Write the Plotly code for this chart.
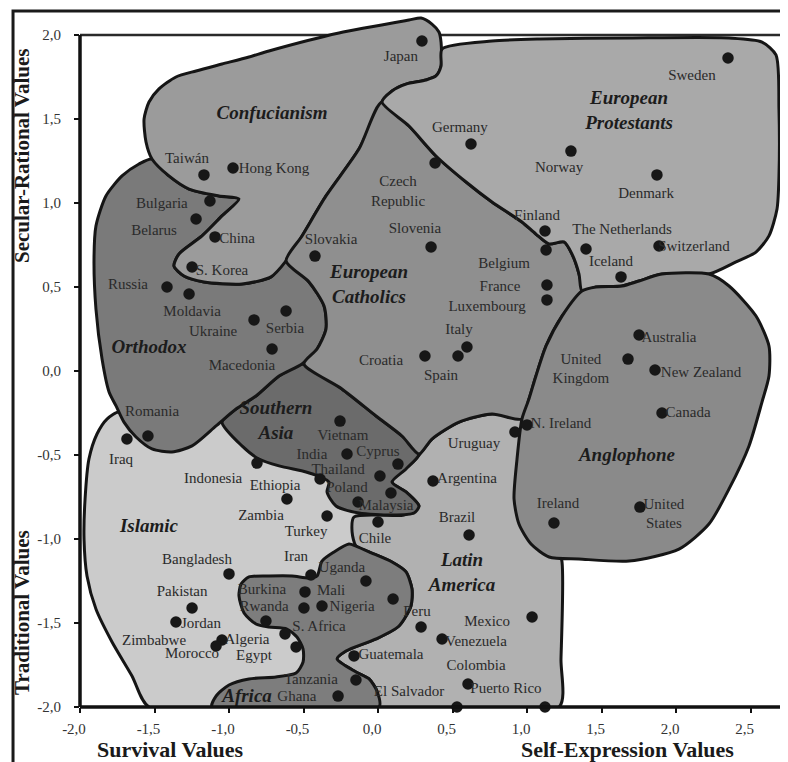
import plotly.graph_objects as go

# ---------------- axis ticks ----------------
x_ticks = [-2.0, -1.5, -1.0, -0.5, 0.0, 0.5, 1.0, 1.5, 2.0, 2.5]
x_tick_text = ["-2,0", "-1,5", "-1,0", "-0,5", "0,0", "0,5", "1,0", "1,5", "2,0", "2,5"]
y_ticks = [-2.0, -1.5, -1.0, -0.5, 0.0, 0.5, 1.0, 1.5, 2.0]
y_tick_text = ["-2,0", "-1,5", "-1,0", "-0,5", "0,0", "0,5", "1,0", "1,5", "2,0"]

# ---------------- country scores (survival/self-expression, traditional/secular-rational) ----------------
dot_x = [0.295, 2.349, -1.168, -0.973, 0.624, 1.295, 1.872, 0.383, -1.128, -1.221,
         -1.094, 1.121, 1.128, 1.396, 0.356, -0.423, 1.631, 1.886, -1.248, -1.416,
         1.134, -1.268, 1.134, -0.832, -0.617, 1.752, 0.597, 0.537, 0.315, -0.711,
         1.678, 1.859, -1.544, -1.685, 1.906, -0.255, 1.000, 0.919, -0.208, 0.134,
         -0.812, 0.013, -0.389, 0.087, -0.611, -0.134, -0.342, 0.369, 0.000, 0.611,
         1.181, 1.758, -1.000, -0.450, -0.081, -1.248, -0.490, -0.497, -0.376, -0.752,
         -0.624, -0.550, -1.356, -1.047, -1.087, 0.289, 0.430, 1.034, -0.161, -0.148,
         -0.268, 0.604, 0.530, 1.121, 0.101]
dot_y = [1.964, 1.863, 1.167, 1.208, 1.351, 1.309, 1.167, 1.238, 1.012, 0.905,
         0.798, 0.833, 0.720, 0.726, 0.738, 0.684, 0.560, 0.744, 0.619, 0.500,
         0.512, 0.458, 0.423, 0.304, 0.357, 0.214, 0.143, 0.089, 0.089, 0.131,
         0.071, 0.006, -0.387, -0.405, -0.250, -0.298, -0.321, -0.363, -0.494, -0.554,
         -0.548, -0.625, -0.643, -0.726, -0.762, -0.780, -0.863, -0.655, -0.899, -0.976,
         -0.905, -0.810, -1.208, -1.214, -1.250, -1.411, -1.315, -1.411, -1.399, -1.488,
         -1.565, -1.643, -1.494, -1.601, -1.637, -1.524, -1.595, -1.464, -1.696, -1.839,
         -1.935, -1.863, -2.000, -2.000, -1.357]

# ---------------- country labels ----------------
label_text = ["Japan", "Sweden", "Taiwán", "Hong Kong", "Germany", "Norway", "Denmark",
              "Czech<br>Republic", "Bulgaria", "Belarus", "China", "Finland", "The Netherlands",
              "Slovenia", "Slovakia", "Iceland", "Switzerland", "Belgium", "S. Korea", "Russia",
              "France", "Moldavia", "Luxembourg", "Ukraine", "Serbia", "Australia", "Italy",
              "Macedonia", "Croatia", "United<br>Kingdom", "Spain", "New Zealand", "Romania",
              "Canada", "Iraq", "Vietnam", "N. Ireland", "Uruguay", "India", "Cyprus",
              "Indonesia", "Thailand", "Ethiopia", "Poland", "Argentina", "Malaysia", "Zambia",
              "Turkey", "Chile", "Brazil", "Ireland", "United<br>States", "Bangladesh", "Iran",
              "Uganda", "Pakistan", "Burkina", "Mali", "Rwanda", "Nigeria", "S. Africa", "Jordan",
              "Peru", "Mexico", "Zimbabwe", "Algeria", "Venezuela", "Morocco", "Egypt",
              "Guatemala", "Colombia", "Tanzania", "Ghana", "El Salvador", "Puerto Rico"]
label_x = [0.154, 2.107, -1.282, -0.698, 0.550, 1.215, 1.799,
           0.134, -1.450, -1.503, -0.946, 1.067, 1.638,
           0.248, -0.315, 1.564, 2.121, 0.846, -1.047, -1.678,
           0.819, -1.248, 0.732, -1.107, -0.624, 1.953, 0.544,
           -0.913, 0.020, 1.362, 0.423, 2.168, -1.517,
           2.081, -1.725, -0.235, 1.228, 0.644, -0.443, 0.000,
           -1.107, -0.268, -0.691, -0.208, 0.597, 0.054, -0.785,
           -0.483, -0.020, 0.530, 1.208, 1.919, -1.215, -0.550,
           -0.242, -1.315, -0.779, -0.315, -0.765, -0.174, -0.396, -1.188,
           0.262, 0.732, -1.503, -0.879, 0.658, -1.248, -0.832,
           0.087, 0.658, -0.450, -0.544, 0.208, 0.859]
label_y = [1.869, 1.756, 1.262, 1.202, 1.446, 1.208, 1.054,
           1.065, 0.994, 0.833, 0.786, 0.923, 0.839,
           0.845, 0.780, 0.649, 0.738, 0.637, 0.595, 0.512,
           0.500, 0.351, 0.381, 0.232, 0.250, 0.196, 0.244,
           0.030, 0.060, 0.006, -0.030, -0.012, -0.244,
           -0.250, -0.530, -0.387, -0.315, -0.435, -0.500, -0.482,
           -0.643, -0.592, -0.685, -0.700, -0.643, -0.806, -0.863,
           -0.958, -1.000, -0.875, -0.792, -0.857, -1.125, -1.107,
           -1.173, -1.315, -1.303, -1.310, -1.406, -1.405, -1.524, -1.506,
           -1.435, -1.494, -1.607, -1.601, -1.613, -1.685, -1.696,
           -1.690, -1.756, -1.843, -1.942, -1.911, -1.893]

# ---------------- cultural zones ----------------
zone_names = ["Islamic", "Latin America", "Africa", "Southern Asia", "Orthodox",
              "Confucianism", "European Catholics", "European Protestants", "Anglophone"]
zone_fill = ["#cbcbcb", "#b1b1b1", "#7d7d7d", "#6b6b6b", "#7a7a7a",
             "#9b9b9b", "#8f8f8f", "#a9a9a9", "#8a8a8a"]

islamic = [(-1.738, -0.244), (-1.658, -0.321), (-1.470, -0.375), (-1.201, -0.315), (-0.933, -0.167),
           (-0.732, -0.196), (-0.463, -0.345), (-0.195, -0.464), (0.074, -0.583), (0.040, -0.762),
           (-0.027, -0.940), (-0.027, -1.179), (-0.262, -1.476), (-0.396, -1.714), (-0.463, -2.0),
           (-1.537, -2.0), (-1.651, -1.815), (-1.785, -1.613), (-1.893, -1.417), (-1.953, -1.220),
           (-1.973, -1.0), (-1.966, -0.762), (-1.940, -0.524), (-1.886, -0.375), (-1.819, -0.286)]
latin = [(-0.161, -0.869), (-0.174, -0.958), (-0.148, -1.042), (-0.060, -1.077), (0.094, -1.137),
         (0.188, -1.196), (0.228, -1.298), (0.221, -1.399), (0.141, -1.518), (-0.013, -1.595),
         (-0.215, -1.667), (-0.275, -1.714), (-0.148, -1.792), (-0.060, -1.833), (-0.007, -1.905),
         (0.007, -2.0), (1.215, -2.0), (1.228, -1.714), (1.235, -1.137), (1.181, -0.940),
         (1.081, -0.643), (1.047, -0.345), (0.966, -0.274), (0.765, -0.256), (0.544, -0.304),
         (0.362, -0.405), (0.255, -0.524), (0.094, -0.661), (0.188, -0.720), (0.275, -0.804),
         (0.174, -0.857), (0.007, -0.857)]
africa = [(-0.866, -1.226), (-0.732, -1.220), (-0.577, -1.220), (-0.463, -1.232), (-0.409, -1.220),
          (-0.376, -1.131), (-0.295, -1.077), (-0.195, -1.030), (-0.148, -1.042), (-0.060, -1.077),
          (0.094, -1.137), (0.188, -1.196), (0.228, -1.298), (0.221, -1.399), (0.141, -1.518),
          (-0.013, -1.595), (-0.215, -1.667), (-0.275, -1.714), (-0.148, -1.792), (-0.060, -1.833),
          (-0.007, -1.905), (0.007, -2.0), (-1.114, -2.0), (-1.087, -1.935), (-1.0, -1.869),
          (-0.866, -1.833), (-0.685, -1.821), (-0.550, -1.798), (-0.503, -1.732), (-0.503, -1.655),
          (-0.544, -1.583), (-0.611, -1.536), (-0.732, -1.524), (-0.819, -1.506), (-0.899, -1.440),
          (-0.933, -1.339), (-0.919, -1.268)]
southern_asia = [(-0.497, 0.042), (-0.242, -0.107), (-0.013, -0.268), (0.161, -0.387), (0.275, -0.494),
                 (0.188, -0.583), (0.094, -0.661), (0.188, -0.720), (0.275, -0.804), (0.242, -0.845),
                 (0.094, -0.857), (-0.128, -0.845), (-0.282, -0.804), (-0.342, -0.720), (-0.329, -0.661),
                 (-0.383, -0.631), (-0.483, -0.601), (-0.664, -0.565), (-0.799, -0.524), (-0.913, -0.446),
                 (-1.047, -0.304), (-0.953, -0.226), (-0.819, -0.149), (-0.664, -0.030)]
orthodox = [(-1.517, 1.262), (-1.403, 1.161), (-1.268, 1.083), (-1.067, 1.042), (-0.933, 1.024),
            (-1.047, 0.923), (-1.181, 0.804), (-1.336, 0.696), (-1.369, 0.625), (-1.302, 0.565),
            (-1.168, 0.530), (-0.913, 0.518), (-0.718, 0.560), (-0.617, 0.655), (-0.463, 0.530),
            (-0.362, 0.387), (-0.349, 0.250), (-0.409, 0.131), (-0.510, 0.042), (-0.664, -0.030),
            (-0.819, -0.149), (-0.953, -0.226), (-1.087, -0.327), (-1.248, -0.446), (-1.383, -0.482),
            (-1.517, -0.464), (-1.624, -0.393), (-1.705, -0.304), (-1.758, -0.208), (-1.805, -0.125),
            (-1.852, 0.071), (-1.893, 0.369), (-1.906, 0.667), (-1.893, 0.863), (-1.826, 1.042),
            (-1.718, 1.161), (-1.604, 1.232)]
confucianism = [(-1.517, 1.262), (-1.557, 1.363), (-1.570, 1.500), (-1.537, 1.601), (-1.470, 1.679),
                (-1.356, 1.750), (-1.221, 1.786), (-1.047, 1.827), (-0.866, 1.869), (-0.732, 1.905),
                (-0.262, 2.012), (0.208, 2.089), (0.289, 2.101), (0.362, 2.065), (0.409, 2.018),
                (0.423, 1.958), (0.423, 1.815), (0.389, 1.756), (0.322, 1.732), (0.188, 1.708),
                (0.094, 1.667), (0.027, 1.601), (-0.128, 1.321), (-0.349, 1.042), (-0.510, 0.804),
                (-0.617, 0.655), (-0.718, 0.560), (-0.913, 0.518), (-1.168, 0.530), (-1.302, 0.565),
                (-1.369, 0.625), (-1.336, 0.696), (-1.181, 0.804), (-1.047, 0.923), (-0.933, 1.024),
                (-1.067, 1.042), (-1.268, 1.083), (-1.403, 1.161)]
catholic = [(0.027, 1.601), (0.208, 1.458), (0.389, 1.280), (0.591, 1.125), (0.765, 1.006),
            (0.966, 0.887), (1.060, 0.815), (1.148, 0.756), (1.248, 0.768), (1.302, 0.696),
            (1.349, 0.577), (1.369, 0.476), (1.235, 0.327), (1.128, 0.149), (1.060, -0.030),
            (1.013, -0.167), (0.966, -0.286), (0.765, -0.256), (0.544, -0.304), (0.362, -0.405),
            (0.275, -0.494), (0.161, -0.387), (-0.013, -0.268), (-0.242, -0.107), (-0.497, 0.042),
            (-0.409, 0.131), (-0.349, 0.250), (-0.362, 0.387), (-0.463, 0.530), (-0.617, 0.655),
            (-0.510, 0.804), (-0.349, 1.042), (-0.128, 1.321)]
protestant = [(0.027, 1.601), (0.094, 1.667), (0.188, 1.708), (0.322, 1.732), (0.389, 1.756),
              (0.423, 1.815), (0.430, 1.917), (0.765, 1.964), (1.081, 1.976), (1.685, 1.982),
              (2.356, 1.982), (2.577, 1.958), (2.671, 1.881), (2.691, 1.560), (2.691, 1.161),
              (2.678, 0.964), (2.624, 0.804), (2.537, 0.708), (2.403, 0.649), (2.221, 0.577),
              (1.906, 0.577), (1.752, 0.536), (1.638, 0.506), (1.463, 0.500), (1.369, 0.476),
              (1.349, 0.577), (1.302, 0.696), (1.248, 0.768), (1.148, 0.756), (1.060, 0.815),
              (0.966, 0.887), (0.765, 1.006), (0.591, 1.125), (0.389, 1.280), (0.208, 1.458)]
anglophone = [(1.369, 0.476), (1.463, 0.500), (1.638, 0.506), (1.752, 0.536), (1.906, 0.577),
              (2.221, 0.577), (2.356, 0.506), (2.537, 0.327), (2.624, 0.149), (2.624, -0.030),
              (2.577, -0.185), (2.490, -0.446), (2.356, -0.702), (2.221, -0.911), (2.020, -1.060),
              (1.685, -1.131), (1.349, -1.119), (1.148, -1.107), (1.027, -1.030), (0.946, -0.911),
              (0.913, -0.762), (0.933, -0.524), (0.966, -0.286), (1.013, -0.167), (1.060, -0.030),
              (1.128, 0.149), (1.235, 0.327)]
zone_outlines = [islamic, latin, africa, southern_asia, orthodox,
                 confucianism, catholic, protestant, anglophone]

zone_label_text = ["Confucianism", "European<br>Protestants", "European<br>Catholics", "Orthodox",
                   "Southern<br>Asia", "Anglophone", "Islamic", "Latin<br>America", "Africa"]
zone_label_x = [-0.711, 1.685, -0.060, -1.537, -0.685, 1.671, -1.537, 0.564, -0.879]
zone_label_y = [1.530, 1.542, 0.506, 0.137, -0.304, -0.506, -0.929, -1.208, -1.940]

SERIF = "Liberation Serif"
fig = go.Figure()

for name, pts, col in zip(zone_names, zone_outlines, zone_fill):
    xs = [p[0] for p in pts] + [pts[0][0]]
    ys = [p[1] for p in pts] + [pts[0][1]]
    fig.add_trace(go.Scatter(
        x=xs, y=ys, mode="lines", fill="toself", fillcolor=col, name=name,
        line=dict(color="#151515", width=3, shape="spline", smoothing=0.7),
        hoverinfo="name", showlegend=False))

fig.add_trace(go.Scatter(
    x=dot_x, y=dot_y, mode="markers", cliponaxis=False,
    marker=dict(size=11.5, color="#171717"), showlegend=False, hoverinfo="x+y"))

fig.add_trace(go.Scatter(
    x=label_x, y=label_y, mode="text", text=label_text, cliponaxis=False,
    textposition="middle center",
    textfont=dict(family=SERIF, size=15, color="#2a2a2a"),
    showlegend=False, hoverinfo="skip"))

fig.add_trace(go.Scatter(
    x=zone_label_x, y=zone_label_y, mode="text",
    text=["<b><i>" + t + "</i></b>" for t in zone_label_text],
    textposition="middle center", cliponaxis=False,
    textfont=dict(family=SERIF, size=19, color="#1c1c1c"),
    showlegend=False, hoverinfo="skip"))

# frame lines (paper coordinates; y=2.0 sits at paper 4/4.119)
y_top = 4.0 / 4.119
shapes = [
    dict(type="line", xref="paper", yref="paper", x0=0, x1=1, y0=y_top, y1=y_top,
         line=dict(color="#2a2a2a", width=2.5), layer="below"),
    dict(type="line", xref="paper", yref="paper", x0=0.9985, x1=0.9985, y0=0, y1=y_top,
         line=dict(color="#8c8c8c", width=2.5), layer="above"),
    dict(type="line", xref="paper", yref="paper", x0=0, x1=0, y0=0, y1=y_top,
         line=dict(color="#111111", width=3.5), layer="above"),
    dict(type="line", xref="paper", yref="paper", x0=0, x1=1, y0=0, y1=0,
         line=dict(color="#111111", width=3.5), layer="above"),
    dict(type="rect", xref="paper", yref="paper", x0=-0.095, x1=1.0085, y0=-0.0881, y1=1.0058,
         line=dict(color="#1a1a1a", width=3), fillcolor="rgba(0,0,0,0)", layer="above"),
]

annotations = [
    dict(text="<b>Survival Values</b>", xref="paper", yref="paper", x=0.1277, y=-0.0621,
         showarrow=False, xanchor="center", yanchor="middle",
         font=dict(family=SERIF, size=22, color="#1a1a1a")),
    dict(text="<b>Self-Expression Values</b>", xref="paper", yref="paper", x=0.7773, y=-0.0621,
         showarrow=False, xanchor="center", yanchor="middle",
         font=dict(family=SERIF, size=22, color="#1a1a1a")),
    dict(text="<b>Secular-Rational Values</b>", xref="paper", yref="paper", x=-0.0823, y=0.7977,
         showarrow=False, xanchor="center", yanchor="middle", textangle=-90,
         font=dict(family=SERIF, size=21, color="#1a1a1a")),
    dict(text="<b>Traditional Values</b>", xref="paper", yref="paper", x=-0.0823, y=0.1373,
         showarrow=False, xanchor="center", yanchor="middle", textangle=-90,
         font=dict(family=SERIF, size=21, color="#1a1a1a")),
]

fig.update_layout(
    width=788, height=762,
    margin=dict(l=72, r=11, t=7, b=63),
    paper_bgcolor="white", plot_bgcolor="white",
    shapes=shapes, annotations=annotations,
    showlegend=False,
    xaxis=dict(range=[-2.0, 2.7315], tickvals=x_ticks, ticktext=x_tick_text,
               showgrid=False, zeroline=False, showline=False,
               ticks="outside", ticklen=5, tickwidth=2, tickcolor="#111",
               ticklabelstandoff=3, ticklabelshift=-6,
               tickfont=dict(family=SERIF, size=15, color="#333")),
    yaxis=dict(range=[-2.0, 2.119], tickvals=y_ticks, ticktext=y_tick_text,
               showgrid=False, zeroline=False, showline=False,
               ticks="outside", ticklen=5, tickwidth=2, tickcolor="#111",
               ticklabelstandoff=10,
               tickfont=dict(family=SERIF, size=15, color="#333")),
)

fig.write_html("out.html")
